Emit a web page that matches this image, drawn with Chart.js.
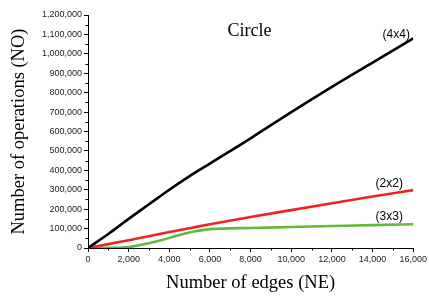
<!DOCTYPE html>
<html>
<head>
<meta charset="utf-8">
<script src="https://cdn.jsdelivr.net/npm/chart.js@4"></script>
<style>
    html, body { margin: 0; padding: 0; background: #fff; }
    #wrap { width: 429px; height: 296px; }
</style>
</head>
<body>
<div id="wrap"><canvas id="chart" width="429" height="296"></canvas></div>
<script>
// ============ DATA ============
const edges = [0, 1000, 2000, 3000, 4000, 5000, 6000, 8000, 10000, 12000, 14000, 16000];
const ops4x4 = [0, 72000, 150000, 225000, 300000, 370000, 435000, 565000, 700000, 830000, 955000, 1080000];
const ops2x2 = [0, 20000, 40000, 61000, 82000, 102000, 122000, 160000, 195000, 230000, 265000, 298000];
const ops3x3 = [0, 1000, 5000, 25000, 52000, 80000, 97000, 103000, 108000, 113000, 118000, 122000];
const seriesNames = ['(4x4)', '(2x2)', '(3x3)'];
const chartTitle = 'Circle';

// ============ HELPERS ============
function toPoints(values) {
    return values.map((v, i) => ({ x: edges[i], y: v }));
}

function formatNumber(v) {
    return Number(v).toLocaleString('en-US');
}

// minor ticks + text labels next to the line ends
const extrasPlugin = {
    id: 'extras',
    afterDraw(chart) {
        const ctx = chart.ctx;
        const x = chart.scales.x;
        const y = chart.scales.y;
        const area = chart.chartArea;

        ctx.save();
        ctx.strokeStyle = '#000';
        ctx.lineWidth = 1;
        ctx.beginPath();
        for (let v = 1000; v < 16000; v += 2000) {
            const px = Math.round(x.getPixelForValue(v)) + 0.5;
            ctx.moveTo(px, area.bottom);
            ctx.lineTo(px, area.bottom + 2.5);
        }
        for (let v = 50000; v < 1200000; v += 100000) {
            const py = Math.round(y.getPixelForValue(v)) + 0.5;
            ctx.moveTo(area.left, py);
            ctx.lineTo(area.left - 2.5, py);
        }
        ctx.stroke();

        // title inside the plot
        ctx.fillStyle = '#000';
        ctx.textAlign = 'center';
        ctx.textBaseline = 'middle';
        ctx.font = '18px "Liberation Serif", "Times New Roman", serif';
        ctx.fillText(chartTitle, x.getPixelForValue(7950), y.getPixelForValue(1115000));

        // series labels
        ctx.font = '12px "Liberation Sans", Arial, sans-serif';
        const offsets = [[-17, -4], [-24, -6], [-24, -8]];
        chart.data.datasets.forEach((ds, i) => {
            const last = ds.data[ds.data.length - 1];
            const px = x.getPixelForValue(last.x) + offsets[i][0];
            const py = y.getPixelForValue(last.y) + offsets[i][1];
            ctx.fillText(seriesNames[i], px, py);
        });
        ctx.restore();
    }
};

// ============ CHART ============
const tickFont = { family: '"Liberation Sans", Arial, sans-serif', size: 9 };
const titleFont = { family: '"Liberation Serif", "Times New Roman", serif', size: 18.5 };

new Chart(document.getElementById('chart').getContext('2d'), {
    type: 'line',
    data: {
        datasets: [
            { label: seriesNames[0], data: toPoints(ops4x4), borderColor: '#000000', borderWidth: 2.6 },
            { label: seriesNames[1], data: toPoints(ops2x2), borderColor: '#ee2424', borderWidth: 2.6 },
            { label: seriesNames[2], data: toPoints(ops3x3), borderColor: '#66b83a', borderWidth: 2.6 }
        ]
    },
    options: {
        responsive: false,
        animation: false,
        devicePixelRatio: 1,
        layout: { padding: { top: 15, right: 15, left: 0, bottom: 0 } },
        elements: {
            point: { radius: 0 },
            line: { cubicInterpolationMode: 'monotone' }
        },
        plugins: {
            legend: { display: false },
            tooltip: { enabled: false }
        },
        scales: {
            x: {
                type: 'linear',
                min: 0,
                max: 16000,
                afterFit: s => { s.height = 48; },
                border: { display: true, color: '#000', width: 1 },
                grid: { display: true, drawOnChartArea: false, color: '#000', tickLength: 4 },
                ticks: {
                    stepSize: 2000,
                    padding: 2,
                    color: '#222',
                    font: tickFont,
                    maxRotation: 0,
                    callback: v => formatNumber(v)
                },
                title: {
                    display: true,
                    text: 'Number of edges (NE)',
                    color: '#000',
                    font: titleFont,
                    padding: { top: 2, bottom: 2 }
                }
            },
            y: {
                type: 'linear',
                min: 0,
                max: 1200000,
                afterFit: s => { s.width = 88; },
                border: { display: true, color: '#000', width: 1 },
                grid: { display: true, drawOnChartArea: false, color: '#000', tickLength: 4 },
                ticks: {
                    stepSize: 100000,
                    padding: 2,
                    color: '#222',
                    font: tickFont,
                    callback: v => formatNumber(v)
                },
                title: {
                    display: true,
                    text: 'Number of operations (NO)',
                    color: '#000',
                    font: titleFont,
                    padding: { top: 8, bottom: 8 }
                }
            }
        }
    },
    plugins: [extrasPlugin]
});
</script>
</body>
</html>
